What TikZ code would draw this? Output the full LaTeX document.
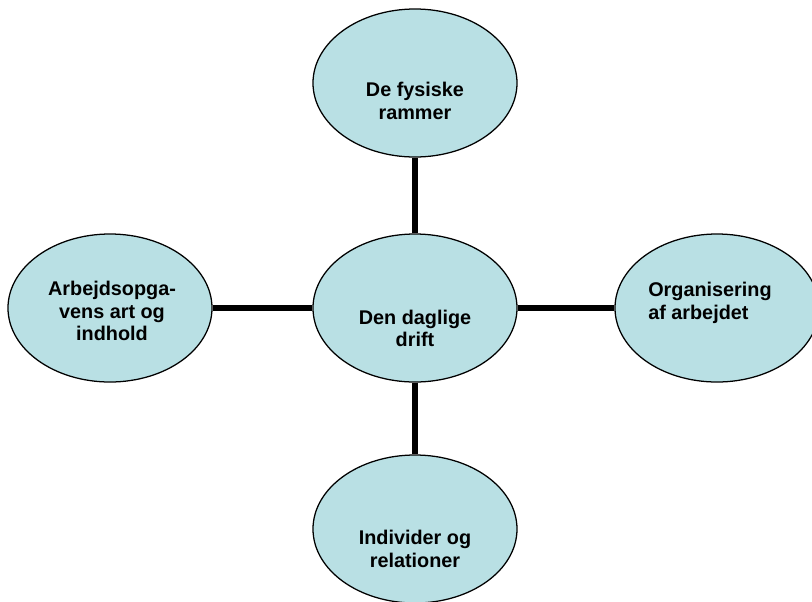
\documentclass[tikz,border=0pt]{standalone}
\usepackage{fontspec}
\setmainfont{Liberation Sans}
\usetikzlibrary{shapes.geometric}
\definecolor{aqua}{RGB}{185,224,228}

\begin{document}
\begin{tikzpicture}[
    bubble/.style={ellipse, draw=black, line width=0.9pt, fill=aqua,
      minimum width=5.1cm, minimum height=3.7cm, inner sep=0pt},
    txt/.style={align=center, inner sep=0pt,
      font=\fontsize{14.1}{16.1}\selectfont\bfseries},
    link/.style={line width=3.6pt}]
  \useasboundingbox (-10.375,7.7) rectangle (9.925,-7.325);

  \node[bubble] (D) at (0,0) {};
  \node[bubble] (R) at (0,5.625) {};
  \node[bubble] (A) at (-7.625,0) {};
  \node[bubble] (O) at (7.55,0) {};
  \node[bubble] (I) at (0,-5.525) {};

  \path[link] (D) edge (R);
  \path[link] (D) edge (A);
  \path[link] (D) edge (O);
  \path[link] (D) edge (I);

  \node[txt] (DT) at ([yshift=-0.51cm]D.center) {Den daglige\\drift};
  \node[txt] (RT) at ([yshift=-0.45cm]R.center) {De fysiske\\rammer};
  \node[txt] (AT) at ([xshift=0.05cm,yshift=-0.075cm]A.center) {Arbejdsopga-\\vens art og\\indhold};
  \node[txt, align=left, anchor=west] (OT) at ([xshift=-1.725cm,yshift=0.125cm]O.center) {Organisering\\af arbejdet};
  \node[txt] (IT) at ([yshift=-0.5cm]I.center) {Individer og\\relationer};
\end{tikzpicture}
\end{document}
